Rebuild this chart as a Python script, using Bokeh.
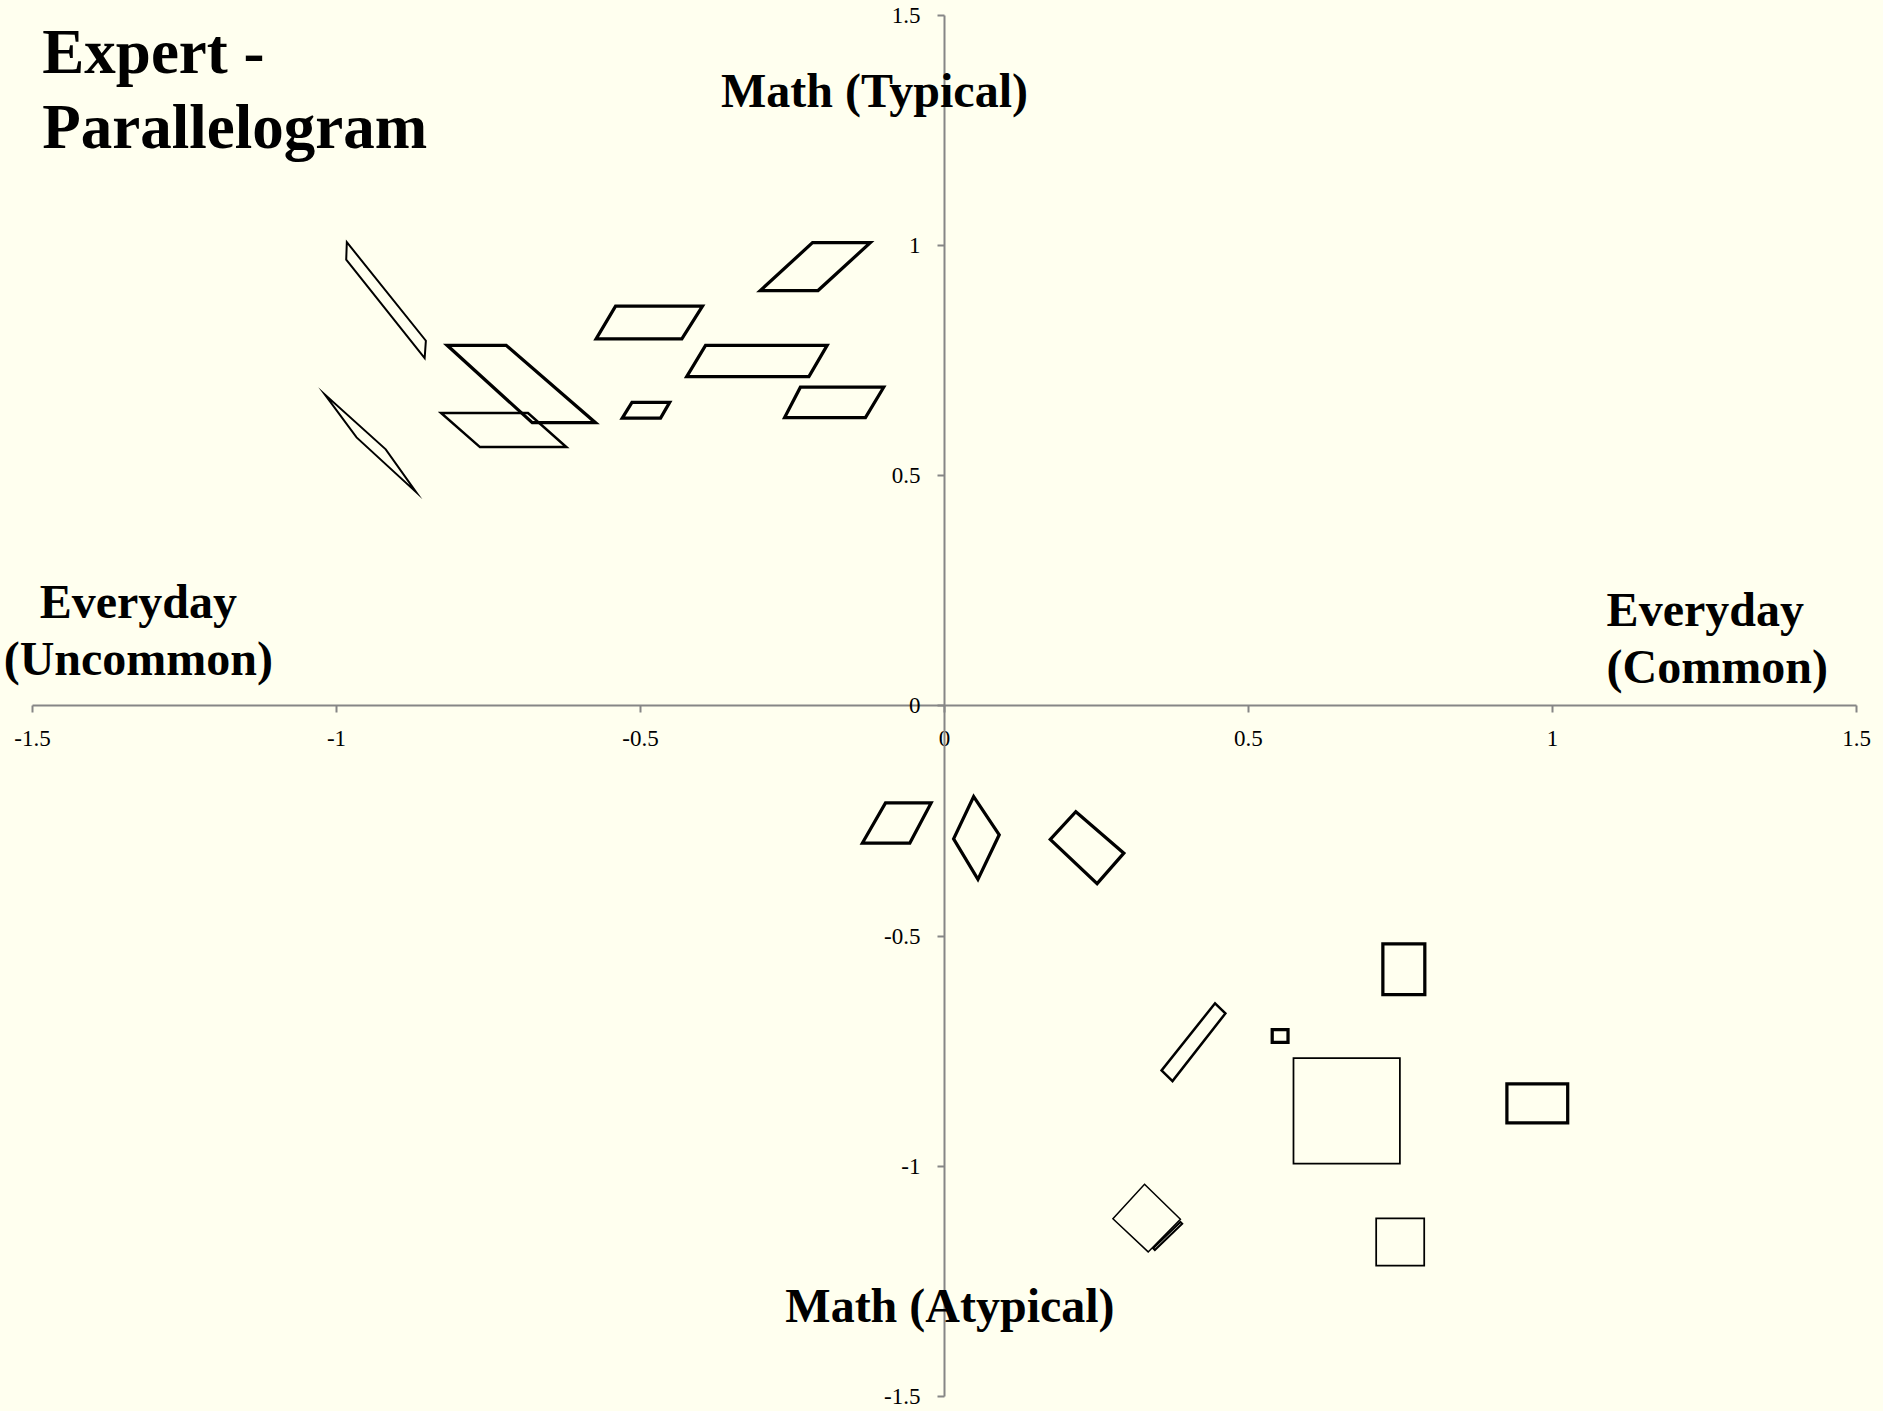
from bokeh.plotting import figure
from bokeh.models import Range1d, LinearAxis, FixedTicker, Label, ColumnDataSource
from bokeh.embed import file_html
from bokeh.resources import INLINE

# ---- data -------------------------------------------------------------
TICKS = [-1.5, -1.0, -0.5, 0.0, 0.5, 1.0, 1.5]
TICK_LABELS = ["-1.5", "-1", "-0.5", "0", "0.5", "1", "1.5"]

# parallelogram outlines (vertices in data units)
SHAPE_X = [
    [-0.983, -0.853, -0.855, -0.984],
    [-0.818, -0.721, -0.574, -0.678],
    [-0.828, -0.685, -0.622, -0.764],
    [-1.019, -0.967, -0.869, -0.919],
    [-0.217, -0.122, -0.208, -0.303],
    [-0.541, -0.398, -0.432, -0.573],
    [-0.393, -0.193, -0.223, -0.424],
    [-0.237, -0.100, -0.130, -0.263],
    [-0.514, -0.452, -0.467, -0.530],
    [-0.097, -0.022, -0.057, -0.135],
    [0.048, 0.090, 0.055, 0.015],
    [0.216, 0.295, 0.251, 0.174],
    [0.445, 0.462, 0.375, 0.357],
    [0.539, 0.565, 0.565, 0.539],
    [0.721, 0.790, 0.790, 0.721],
    [0.574, 0.749, 0.749, 0.574],
    [0.925, 1.025, 1.025, 0.925],
    [0.710, 0.789, 0.789, 0.710],
    [0.329, 0.388, 0.335, 0.277],
    [0.343, 0.388, 0.391, 0.346],
]
SHAPE_Y = [
    [1.007, 0.793, 0.755, 0.969],
    [0.783, 0.783, 0.615, 0.615],
    [0.636, 0.636, 0.562, 0.562],
    [0.676, 0.583, 0.464, 0.557],
    [1.006, 1.006, 0.902, 0.902],
    [0.868, 0.868, 0.797, 0.797],
    [0.783, 0.783, 0.715, 0.715],
    [0.692, 0.692, 0.626, 0.626],
    [0.659, 0.659, 0.625, 0.625],
    [-0.211, -0.211, -0.298, -0.298],
    [-0.197, -0.280, -0.377, -0.289],
    [-0.230, -0.320, -0.386, -0.290],
    [-0.646, -0.668, -0.815, -0.792],
    [-0.703, -0.703, -0.731, -0.731],
    [-0.517, -0.517, -0.627, -0.627],
    [-0.765, -0.765, -0.994, -0.994],
    [-0.821, -0.821, -0.906, -0.906],
    [-1.113, -1.113, -1.216, -1.216],
    [-1.039, -1.115, -1.186, -1.114],
    [-1.178, -1.121, -1.125, -1.182],
]

# ---- style ------------------------------------------------------------
LINE_W = [2, 3.25, 2.5, 2, 3.25, 3.25, 3.25, 3.25, 3.25, 3.25, 3.25, 3.25,
          2.5, 3.25, 3.25, 1.75, 3.25, 1.75, 1.5, 2]
BG = "#FFFFEF"
AXIS_C = "#868686"
SERIF = "Liberation Serif"

p = figure(width=1883, height=1411,
           x_range=Range1d(-1.5526, 1.5444), y_range=Range1d(-1.5326, 1.5319),
           x_axis_location=None, y_axis_location=None,
           toolbar_location=None, output_backend="svg",
           min_border_left=0, min_border_right=0,
           min_border_top=0, min_border_bottom=0,
           background_fill_color=BG, border_fill_color=BG,
           outline_line_color=None)
p.xgrid.grid_line_color = None
p.ygrid.grid_line_color = None

overrides = {t: l for t, l in zip(TICKS, TICK_LABELS)}


def style_axis(ax, standoff):
    ax.ticker = FixedTicker(ticks=TICKS)
    ax.bounds = (TICKS[0], TICKS[-1])
    ax.major_label_overrides = overrides
    ax.axis_line_color = AXIS_C
    ax.axis_line_width = 2
    ax.major_tick_line_color = AXIS_C
    ax.major_tick_line_width = 2
    ax.major_tick_out = 7
    ax.major_tick_in = 0
    ax.minor_tick_out = 0
    ax.minor_tick_in = 0
    ax.minor_tick_line_color = None
    ax.major_label_text_font = SERIF
    ax.major_label_text_font_size = "23px"
    ax.major_label_text_color = "black"
    ax.major_label_standoff = standoff


xaxis = LinearAxis(fixed_location=0)
style_axis(xaxis, 18)
p.add_layout(xaxis, "below")
yaxis = LinearAxis(fixed_location=0)
style_axis(yaxis, 17)
p.add_layout(yaxis, "left")

src = ColumnDataSource(dict(xs=SHAPE_X, ys=SHAPE_Y, lw=LINE_W))
p.patches("xs", "ys", source=src, fill_alpha=0, line_color="black",
          line_width="lw", line_join="miter")


def lab(x, y, text, size, align="left"):
    p.add_layout(Label(x=x, y=y, text=text, text_font=SERIF,
                       text_font_style="bold", text_font_size=size,
                       text_align=align, text_baseline="alphabetic",
                       text_color="black"))


lab(-1.4838, 1.421, "Expert -", "63px")
lab(-1.4838, 1.258, "Parallelogram", "63px")
lab(-0.1152, 1.3375, "Math (Typical)", "48px", "center")
lab(0.009, -1.3015, "Math (Atypical)", "48px", "center")
lab(-1.3259, 0.2275, "Everyday", "48px", "center")
lab(-1.3259, 0.1038, "(Uncommon)", "48px", "center")
lab(1.089, 0.2102, "Everyday", "48px")
lab(1.089, 0.0865, "(Common)", "48px")

html = file_html(p, INLINE)
html = html.replace("<head>", "<head><style>body{background-color:%s;}</style>" % BG, 1)
open("out.html", "w").write(html)
